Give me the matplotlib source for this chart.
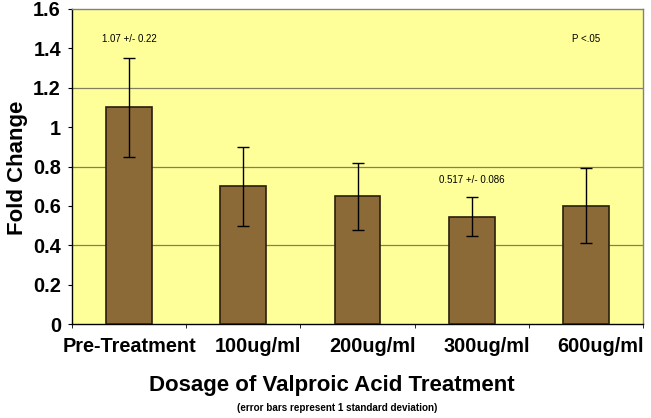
import numpy as np
import matplotlib.pyplot as plt
from matplotlib.transforms import ScaledTranslation

categories = ['Pre-Treatment', '100ug/ml', '200ug/ml', '300ug/ml', '600ug/ml']
fold_change = [1.10, 0.70, 0.65, 0.545, 0.60]
std_dev = [0.25, 0.20, 0.17, 0.10, 0.19]
y_ticks = [0, 0.2, 0.4, 0.6, 0.8, 1, 1.2, 1.4, 1.6]
y_tick_labels = ['0', '0.2', '0.4', '0.6', '0.8', '1', '1.2', '1.4', '1.6']
grid_levels = [0.4, 0.8, 1.2]

plt.rcParams['font.family'] = ['Liberation Sans', 'DejaVu Sans']

fig = plt.figure(figsize=(6.51, 4.18), dpi=100)
ax = fig.add_axes([72 / 651, 1 - 324 / 418, 571 / 651, 315 / 418])
ax.set_facecolor('#FFFF99')

x = np.arange(len(categories))
ax.bar(x, fold_change, width=0.4, color='#8B6A38', edgecolor='#2a1f10', linewidth=1.2, zorder=3)
ax.errorbar(x, fold_change, yerr=std_dev, fmt='none', ecolor='black', elinewidth=1,
            capsize=4, capthick=1, zorder=4)

for g in grid_levels:
    ax.axhline(g, color='#808060', linewidth=0.9, zorder=1)

ax.set_xlim(-0.5, len(categories) - 0.5)
ax.set_ylim(0, 1.6)
ax.set_yticks(y_ticks)
ax.set_yticklabels(y_tick_labels, fontsize=14.3, fontweight='bold')
ax.set_xticks(x)
ax.set_xticklabels(categories, fontsize=14.3, fontweight='bold')
ax.tick_params(axis='x', length=0, pad=9)
ax.set_xticks(np.arange(len(categories) + 1) - 0.5, minor=True)
ax.tick_params(axis='x', which='minor', length=3, direction='out', color='black')
ax.tick_params(axis='y', length=3, direction='out', pad=5)

# the dose labels sit a bit right of their bars in the original
shift = ScaledTranslation(0.15, 0, fig.dpi_scale_trans)
for lbl in ax.get_xticklabels()[1:]:
    lbl.set_transform(lbl.get_transform() + shift)

for side in ['top', 'right']:
    ax.spines[side].set_color('#808080')
    ax.spines[side].set_linewidth(1)
for side in ['left', 'bottom']:
    ax.spines[side].set_color('black')
    ax.spines[side].set_linewidth(1)

ax.text(0, 1.45, '1.07 +/- 0.22', ha='center', va='center', fontsize=7)
ax.text(4, 1.45, 'P <.05', ha='center', va='center', fontsize=7)
ax.text(3, 0.73, '0.517 +/- 0.086', ha='center', va='center', fontsize=7)

fig.text(18 / 651, 1 - 168 / 418, 'Fold Change', rotation=90, ha='center', va='center',
         fontsize=16, fontweight='bold')
fig.text(332 / 651, 1 - 385 / 418, 'Dosage of Valproic Acid Treatment', ha='center', va='center',
         fontsize=16, fontweight='bold')
fig.text(337 / 651, 1 - 408 / 418, '(error bars represent 1 standard deviation)', ha='center',
         va='center', fontsize=7.1, fontweight='bold')

fig.savefig('out.png', dpi=100)
